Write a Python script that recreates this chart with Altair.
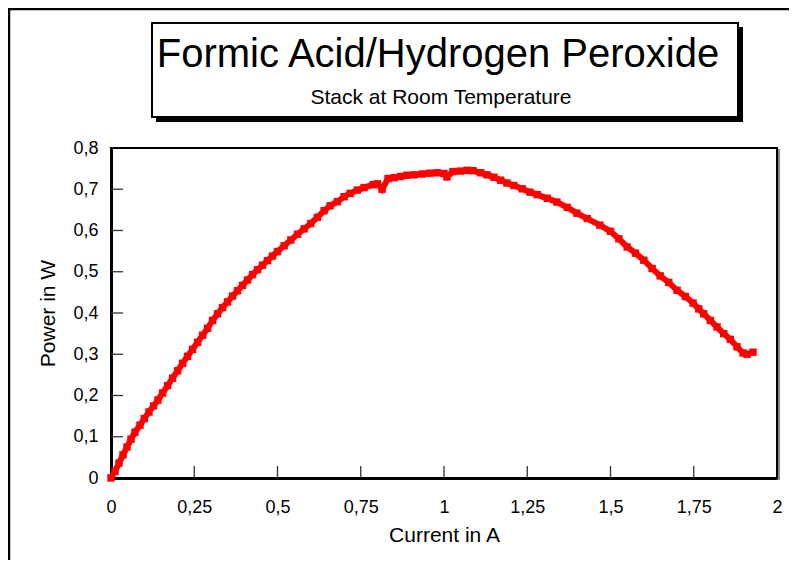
import altair as alt
import pandas as pd

# ---- data ----
current = [0.000, 0.012, 0.024, 0.036, 0.048, 0.060, 0.072, 0.087, 0.100, 0.114,
           0.128, 0.141, 0.155, 0.170, 0.185, 0.200, 0.215, 0.230, 0.245, 0.260,
           0.275, 0.290, 0.305, 0.320, 0.335, 0.350, 0.365, 0.380, 0.395, 0.410,
           0.425, 0.440, 0.455, 0.470, 0.485, 0.500, 0.520, 0.540, 0.560, 0.580,
           0.600, 0.620, 0.640, 0.658, 0.680, 0.700, 0.718, 0.740, 0.760, 0.787,
           0.800, 0.814, 0.832, 0.850, 0.870, 0.889, 0.910, 0.935, 0.958, 0.980,
           1.000, 1.009, 1.027, 1.050, 1.070, 1.087, 1.110, 1.129, 1.150, 1.170,
           1.189, 1.210, 1.235, 1.258, 1.280, 1.310, 1.339, 1.370, 1.399, 1.430,
           1.468, 1.500, 1.525, 1.550, 1.575, 1.600, 1.625, 1.649, 1.675, 1.700,
           1.725, 1.748, 1.765, 1.780, 1.800, 1.820, 1.840, 1.860, 1.880, 1.898,
           1.910, 1.928]
power = [0.000, 0.016, 0.036, 0.056, 0.075, 0.094, 0.111, 0.128, 0.144, 0.160,
         0.175, 0.189, 0.206, 0.224, 0.242, 0.260, 0.278, 0.295, 0.312, 0.329,
         0.346, 0.363, 0.382, 0.398, 0.413, 0.427, 0.441, 0.454, 0.467, 0.480,
         0.493, 0.505, 0.516, 0.527, 0.538, 0.549, 0.563, 0.577, 0.591, 0.604,
         0.617, 0.632, 0.648, 0.660, 0.670, 0.682, 0.690, 0.698, 0.704, 0.711,
         0.713, 0.700, 0.726, 0.728, 0.731, 0.734, 0.735, 0.737, 0.739, 0.740,
         0.738, 0.730, 0.743, 0.744, 0.746, 0.745, 0.740, 0.735, 0.729, 0.722,
         0.715, 0.709, 0.701, 0.693, 0.687, 0.678, 0.669, 0.656, 0.642, 0.629,
         0.613, 0.598, 0.580, 0.560, 0.545, 0.528, 0.508, 0.490, 0.474, 0.455,
         0.440, 0.424, 0.410, 0.398, 0.382, 0.366, 0.350, 0.336, 0.318, 0.303,
         0.300, 0.305]

x_ticks = [0, 0.25, 0.5, 0.75, 1, 1.25, 1.5, 1.75, 2]
y_ticks = [0, 0.1, 0.2, 0.3, 0.4, 0.5, 0.6, 0.7, 0.8]
title_text = "Formic Acid/Hydrogen Peroxide"
subtitle_text = "Stack at Room Temperature"
x_title = "Current in A"
y_title = "Power in W"

FONT = "Liberation Sans"
W, H = 666, 330
RED = "#ff0000"
LBL = "replace(format(datum.value, '~g'), '.', ',')"

df = pd.DataFrame({"current": current, "power": power})
xt = pd.DataFrame({"v": x_ticks[1:-1]})
yt = pd.DataFrame({"v": y_ticks[1:-1]})
one = pd.DataFrame({"k": [0]})

xscale = alt.Scale(domain=[0, 2], nice=False, zero=False)
yscale = alt.Scale(domain=[0, 0.8], nice=False, zero=False)

xaxis = alt.Axis(values=x_ticks, grid=False, tickSize=0, domainColor="black",
                 domainWidth=3, labelFontSize=18, labelFont=FONT, labelColor="black",
                 labelPadding=20, labelExpr=LBL, labelFlush=False, labelOverlap=False,
                 title=x_title, titleFont=FONT, titleFontSize=21,
                 titleFontWeight="normal", titleColor="black", titlePadding=8)
yaxis = alt.Axis(values=y_ticks, grid=False, tickSize=0, domainColor="black",
                 domainWidth=3, labelFontSize=18, labelFont=FONT, labelColor="black",
                 labelPadding=13, labelExpr=LBL, labelFlush=False, labelOverlap=False,
                 title=y_title, titleFont=FONT, titleFontSize=21,
                 titleFontWeight="normal", titleColor="black", titlePadding=14)

line = alt.Chart(df).mark_line(color=RED, strokeWidth=6).encode(
    x=alt.X("current:Q", scale=xscale, axis=xaxis),
    y=alt.Y("power:Q", scale=yscale, axis=yaxis),
    order=alt.Order("current:Q"),
)
pts = alt.Chart(df).mark_square(color=RED, size=55, opacity=1).encode(
    x=alt.X("current:Q", scale=xscale),
    y=alt.Y("power:Q", scale=yscale),
)

xticks_l = alt.Chart(xt).mark_rule(color="#333333", strokeWidth=1.3).encode(
    x=alt.X("v:Q", scale=xscale),
    y=alt.value(H - 12), y2=alt.value(H),
)
yticks_l = alt.Chart(yt).mark_rule(color="#333333", strokeWidth=1.3).encode(
    y=alt.Y("v:Q", scale=yscale),
    x=alt.value(0), x2=alt.value(12),
)

# outer frame (left and top edges of the picture)
frame_left = alt.Chart(one).mark_rule(color="black", strokeWidth=2.5).encode(
    x=alt.value(-102), y=alt.value(-140), y2=alt.value(440))
frame_top = alt.Chart(one).mark_rule(color="black", strokeWidth=2.5).encode(
    x=alt.value(-103), x2=alt.value(700), y=alt.value(-139))

# title box with shadow
shadow = alt.Chart(one).mark_rect(color="black").encode(
    x=alt.value(45), x2=alt.value(632), y=alt.value(-121), y2=alt.value(-26))
box = alt.Chart(one).mark_rect(fill="white", stroke="black", strokeWidth=2).encode(
    x=alt.value(41), x2=alt.value(627), y=alt.value(-125), y2=alt.value(-31))
t1 = alt.Chart(one).mark_text(text=title_text, font=FONT, fontSize=40,
                              color="black", align="center", baseline="alphabetic").encode(
    x=alt.value(327), y=alt.value(-81))
t2 = alt.Chart(one).mark_text(text=subtitle_text, font=FONT, fontSize=21,
                              color="black", align="center", baseline="alphabetic").encode(
    x=alt.value(330), y=alt.value(-44))

# thin grey shadow at right edge of the plot frame
rshadow = alt.Chart(one).mark_rule(color="#888888", strokeWidth=2).encode(
    x=alt.value(W + 2), y=alt.value(1), y2=alt.value(H + 2))

chart = alt.layer(
    frame_left, frame_top, shadow, box, t1, t2, rshadow,
    line, pts, xticks_l, yticks_l,
).properties(
    width=W, height=H,
    autosize=alt.AutoSizeParams(type="none"),
    padding={"left": 103, "top": 140, "right": 12, "bottom": 82},
    background="white",
).configure_view(stroke="black", strokeWidth=2)

chart.save("out.html", embed_options={"renderer": "svg", "actions": False})
